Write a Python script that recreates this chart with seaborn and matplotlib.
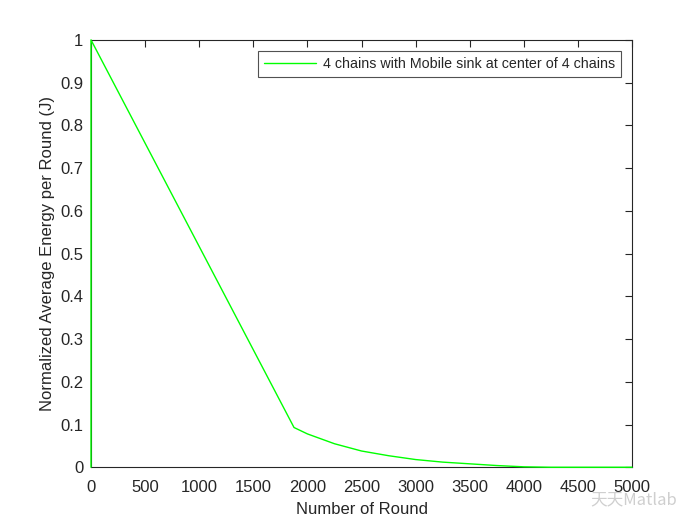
import matplotlib
matplotlib.use("Agg")
from matplotlib import pyplot as plt
import seaborn as sb
import pandas as pd
import numpy as np

# values
rounds = [0, 0, 1876, 2000, 2250, 2500, 2750, 3000, 3250, 3500, 3750, 4000, 4250, 5000]
energy = [0, 1.0, 0.093, 0.078, 0.055, 0.038, 0.027, 0.018, 0.012, 0.008, 0.004, 0.001, 0.0, 0.0]
serie = "4 chains with Mobile sink at center of 4 chains"

df = pd.DataFrame({"Round": rounds, "Energy": energy, "Serie": serie})

sb.set_style("white")
plt.rcParams['font.family'] = ['Liberation Sans', 'DejaVu Sans']

fig = plt.figure(figsize=(7, 5.25), dpi=100)
ax = fig.add_axes([0.13, 0.11, 0.773, 0.814])
sb.lineplot(data=df, x="Round", y="Energy", hue="Serie", palette=["#00ff00"],
            estimator=None, sort=False, linewidth=1.0, ax=ax)
for ln in ax.get_lines():
    ln.set_clip_on(False)
    ln.set_zorder(3)

ax.set_xlim(0, 5000)
ax.set_ylim(0, 1)
ax.set_xticks(np.arange(0, 5001, 500))
ax.set_yticks(np.arange(0, 1.01, 0.1))
ax.set_yticklabels(["0", "0.1", "0.2", "0.3", "0.4", "0.5", "0.6", "0.7", "0.8", "0.9", "1"])
ax.tick_params(direction="in", top=True, right=True, length=5, width=0.8,
               labelsize=12, colors="#262626")
ax.tick_params(axis="x", pad=9)
ax.tick_params(axis="y", pad=5.5)
for s in ax.spines.values():
    s.set_color("#262626")
    s.set_linewidth(0.8)
ax.set_xlabel("Number of Round", fontsize=12, color="#262626", labelpad=5)
ax.set_ylabel("Normalized Average Energy per Round (J)", fontsize=12, color="#262626")

leg = ax.legend(loc="upper right", fontsize=10.3, frameon=True, fancybox=False,
                handlelength=3.6, handletextpad=0.5, borderaxespad=0.8)
leg.get_frame().set_edgecolor("#262626")
leg.get_frame().set_linewidth(0.8)

# watermark
fig.text(0.843, 0.04, "天天Matlab", fontsize=12, color="#cfcfcf",
         family=['Noto Sans CJK SC', 'DejaVu Sans'])

plt.savefig("out.png", dpi=100)
